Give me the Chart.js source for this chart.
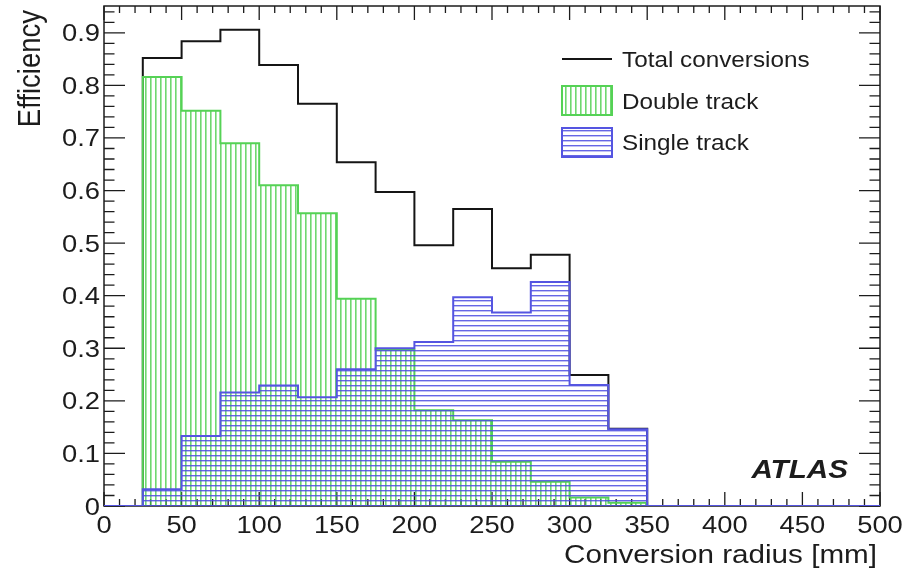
<!DOCTYPE html>
<html>
<head>
<meta charset="utf-8">
<title>Conversion reconstruction efficiency</title>
<script src="https://cdn.jsdelivr.net/npm/chart.js@4.4.1/dist/chart.umd.min.js"></script>
<style>
  html, body { margin: 0; padding: 0; background: #ffffff; }
  #wrap { width: 918px; height: 575px; position: relative; }
</style>
</head>
<body>
<div id="wrap"><canvas id="chart"></canvas></div>
<script>
// Bin edges of the conversion radius histograms [mm]
const radiusEdges = [0, 25, 50, 75, 100, 125, 150, 175, 200, 225, 250,
                     275, 300, 325, 350, 375, 400, 425, 450, 475, 500];

// Efficiency per bin (20 bins, 0-500 mm)
const totalEff  = [0, 0.852, 0.884, 0.906, 0.839, 0.765, 0.654, 0.597, 0.496, 0.565,
                   0.452, 0.478, 0.249, 0.147, 0, 0, 0, 0, 0, 0];
const doubleEff = [0, 0.816, 0.752, 0.690, 0.610, 0.557, 0.394, 0.297, 0.182, 0.163,
                   0.084, 0.046, 0.016, 0.006, 0, 0, 0, 0, 0, 0];
const singleEff = [0, 0.032, 0.133, 0.216, 0.229, 0.207, 0.260, 0.300, 0.312, 0.397,
                   0.368, 0.426, 0.230, 0.146, 0, 0, 0, 0, 0, 0];

const seriesNames = ['Total conversions', 'Double track', 'Single track'];

// Axis labelling
const xTickValues = [0, 50, 100, 150, 200, 250, 300, 350, 400, 450, 500];
const xTickLabels = ['0', '50', '100', '150', '200', '250', '300', '350', '400', '450', '500'];
const yTickValues = [0, 0.1, 0.2, 0.3, 0.4, 0.5, 0.6, 0.7, 0.8, 0.9];
const yTickLabels = ['0', '0.1', '0.2', '0.3', '0.4', '0.5', '0.6', '0.7', '0.8', '0.9'];
const xTitle = 'Conversion radius [mm]';
const yTitle = 'Efficiency';
const experimentTag = 'ATLAS';

// Histogram outline: a closed step path along the bin edges
function stepPoints(values) {
  const pts = [{ x: radiusEdges[0], y: 0 }];
  values.forEach((v, i) => {
    pts.push({ x: radiusEdges[i], y: v });
    pts.push({ x: radiusEdges[i + 1], y: v });
  });
  pts.push({ x: radiusEdges[radiusEdges.length - 1], y: 0 });
  return pts;
}

// Hatch fills
function hatch(kind, color) {
  const c = document.createElement('canvas');
  c.width = 5; c.height = 5;
  const g = c.getContext('2d');
  g.fillStyle = color;
  if (kind === 'vertical') g.fillRect(0, 0, 1.6, 5);
  else g.fillRect(0, 0, 5, 1.4);
  return g.createPattern(c, 'repeat');
}

const ctx = document.getElementById('chart').getContext('2d');
const greenHatch = hatch('vertical', 'rgba(70, 205, 70, 0.78)');
const blueHatch  = hatch('horizontal', 'rgba(75, 75, 225, 0.85)');

const FONT = '"Liberation Sans", Arial, Helvetica, sans-serif';
const STRETCH = 1.14;
const INK = '#1c1c1c';

function stretchedText(c, text, x, y, size, align, opts = {}) {
  c.save();
  c.translate(x, y);
  c.scale(STRETCH, 1);
  if (opts.rotate) c.rotate(-Math.PI / 2);
  c.font = (opts.style || '') + ' ' + size + 'px ' + FONT;
  c.fillStyle = INK;
  c.textAlign = align;
  c.textBaseline = 'alphabetic';
  c.fillText(text, 0, 0);
  c.restore();
}

// Frame with inward ticks on all four sides, labels, titles and legend
const frameAndText = {
  id: 'frameAndText',
  beforeDatasetsDraw(chart) {
    const c = chart.ctx;
    const { left, right, top, bottom } = chart.chartArea;
    const xs = chart.scales.x, ys = chart.scales.y;
    c.save();
    c.strokeStyle = INK;
    c.lineWidth = 1.5;
    c.strokeRect(left, top, right - left, bottom - top);
    c.lineWidth = 1.3;
    c.beginPath();
    for (let v = 0; v <= 500; v += 10) {
      const px = xs.getPixelForValue(v);
      const len = (v % 50 === 0) ? 14 : 7;
      c.moveTo(px, bottom); c.lineTo(px, bottom - len);
      c.moveTo(px, top); c.lineTo(px, top + len);
    }
    for (let k = 0; k <= 47; k++) {
      const v = k * 0.02;
      if (v > ys.max) break;
      const py = ys.getPixelForValue(v);
      const len = (k % 5 === 0) ? 21 : 10.5;
      c.moveTo(left, py); c.lineTo(left + len, py);
      c.moveTo(right, py); c.lineTo(right - len, py);
    }
    c.stroke();
    c.restore();
  },
  afterDraw(chart) {
    const c = chart.ctx;
    const { left, right, top, bottom } = chart.chartArea;
    const xs = chart.scales.x, ys = chart.scales.y;

    xTickValues.forEach((v, i) => {
      stretchedText(c, xTickLabels[i], xs.getPixelForValue(v), bottom + 26.5, 24, 'center');
    });
    yTickValues.forEach((v, i) => {
      stretchedText(c, yTickLabels[i], left - 4, ys.getPixelForValue(v) + 8.5, 24, 'right');
    });

    stretchedText(c, xTitle, right - 3, bottom + 57, 26, 'right');
    stretchedText(c, yTitle, 40, top + 4, 27.5, 'right', { rotate: true });

    stretchedText(c, experimentTag, 848, 478, 26, 'right', { style: 'italic bold' });

    // Legend
    const ds = chart.data.datasets;
    const lx = 562, lw = 50, tx = 622;
    c.save();
    c.strokeStyle = ds[0].borderColor;
    c.lineWidth = 2;
    c.beginPath(); c.moveTo(lx, 59); c.lineTo(lx + lw, 59); c.stroke();
    c.fillStyle = ds[1].backgroundColor;
    c.fillRect(lx, 86, lw, 29);
    c.strokeStyle = ds[1].borderColor;
    c.strokeRect(lx, 86, lw, 29);
    c.fillStyle = ds[2].backgroundColor;
    c.fillRect(lx, 128, lw, 29);
    c.strokeStyle = ds[2].borderColor;
    c.strokeRect(lx, 128, lw, 29);
    c.restore();
    stretchedText(c, ds[0].label, tx, 66.5, 21.3, 'left');
    stretchedText(c, ds[1].label, tx, 108.5, 21.3, 'left');
    stretchedText(c, ds[2].label, tx, 150, 21.3, 'left');
  }
};

new Chart(ctx, {
  type: 'line',
  data: {
    datasets: [
      {
        label: seriesNames[0],
        data: stepPoints(totalEff),
        borderColor: '#151515',
        borderWidth: 2,
        backgroundColor: 'rgba(0,0,0,0)',
        fill: false,
        order: 3
      },
      {
        label: seriesNames[1],
        data: stepPoints(doubleEff),
        borderColor: 'rgb(85, 210, 85)',
        borderWidth: 2,
        backgroundColor: greenHatch,
        fill: 'origin',
        order: 2
      },
      {
        label: seriesNames[2],
        data: stepPoints(singleEff),
        borderColor: 'rgb(85, 85, 225)',
        borderWidth: 2,
        backgroundColor: blueHatch,
        fill: 'origin',
        order: 1
      }
    ]
  },
  options: {
    responsive: true,
    maintainAspectRatio: false,
    animation: false,
    layout: { padding: { left: 104, right: 38, top: 6, bottom: 69 } },
    elements: {
      point: { radius: 0, hoverRadius: 0 },
      line: { tension: 0, borderJoinStyle: 'miter', borderCapStyle: 'butt' }
    },
    scales: {
      x: { type: 'linear', min: 0, max: 500, display: false },
      y: { type: 'linear', min: 0, max: 0.951, display: false }
    },
    plugins: {
      legend: { display: false },
      tooltip: { enabled: false }
    }
  },
  plugins: [frameAndText]
});
</script>
</body>
</html>
